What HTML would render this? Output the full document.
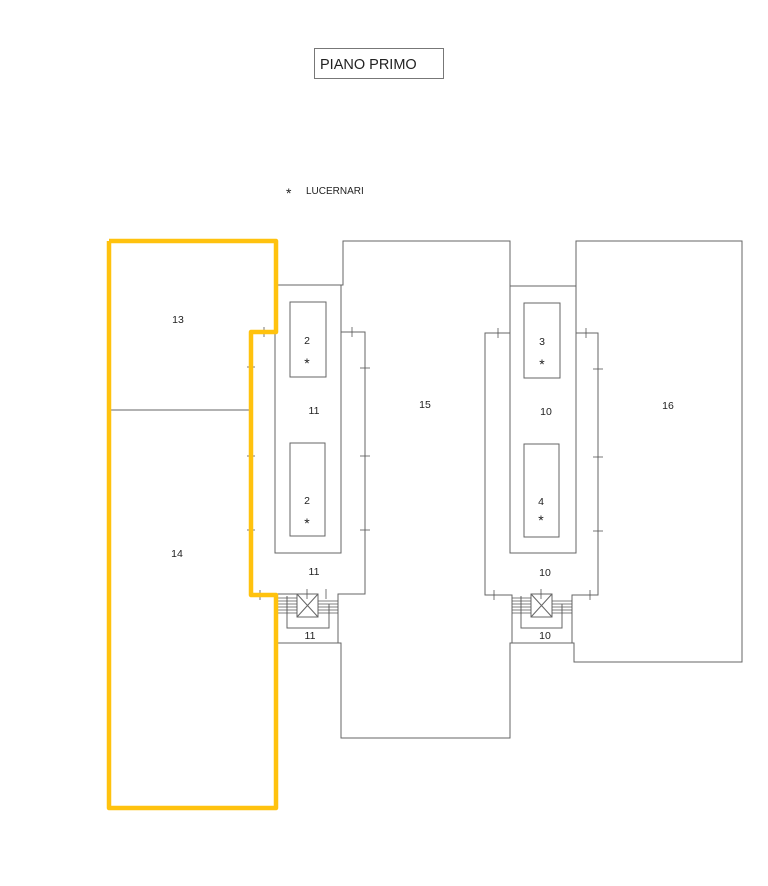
<!DOCTYPE html>
<html><head><meta charset="utf-8"><style>
html,body{margin:0;padding:0;background:#fff;}
svg{display:block;}
text{font-family:"Liberation Sans",sans-serif;fill:#222;}
</style></head><body>
<svg width="768" height="886" viewBox="0 0 768 886" xmlns="http://www.w3.org/2000/svg">
<rect x="314.5" y="48.5" width="129" height="30" fill="none" stroke="#777" stroke-width="1"/>
<text x="320" y="69" font-size="14.5">PIANO PRIMO</text>
<text x="286" y="198" font-size="14">*</text>
<text x="306" y="194" font-size="10">LUCERNARI</text>

<g fill="none" stroke="#666" stroke-width="1">
<line x1="109" y1="410" x2="251" y2="410"/>
<polyline points="276,285 343,285 343,241 510,241 510,286 576,286 576,241 742,241 742,662 574,662 574,643 510,643 510,738 341,738 341,643 276,643"/>
<rect x="275" y="285" width="66" height="268"/>
<rect x="290" y="302" width="36" height="75"/>
<rect x="290" y="443" width="35" height="93"/>
<polyline points="341,332 365,332 365,594 338,594 338,643"/>
<line x1="276" y1="594" x2="297" y2="594"/>
<rect x="297" y="594" width="21" height="23"/>
<line x1="297" y1="594" x2="318" y2="617"/><line x1="318" y1="594" x2="297" y2="617"/>
<polyline points="287,596 287,628 329,628 329,604"/>
<rect x="510" y="286" width="66" height="267"/>
<rect x="524" y="303" width="36" height="75"/>
<rect x="524" y="444" width="35" height="93"/>
<polyline points="510,333 485,333 485,595 512,595 512,643"/>
<polyline points="576,333 598,333 598,595 572,595 572,643"/>
<rect x="531" y="594" width="21" height="23"/>
<line x1="531" y1="594" x2="552" y2="617"/><line x1="552" y1="594" x2="531" y2="617"/>
<polyline points="521,596 521,628 562,628 562,604"/>
</g>
<g stroke="#555" stroke-width="0.8">
<line x1="278" y1="598" x2="297" y2="598"/><line x1="278" y1="601" x2="297" y2="601"/><line x1="278" y1="604" x2="297" y2="604"/><line x1="278" y1="607" x2="297" y2="607"/><line x1="278" y1="610" x2="297" y2="610"/><line x1="278" y1="613" x2="297" y2="613"/>
<line x1="318" y1="601" x2="338" y2="601"/><line x1="318" y1="604" x2="338" y2="604"/><line x1="318" y1="607" x2="338" y2="607"/><line x1="318" y1="610" x2="338" y2="610"/><line x1="318" y1="613" x2="338" y2="613"/>
<line x1="512" y1="598" x2="531" y2="598"/><line x1="512" y1="601" x2="531" y2="601"/><line x1="512" y1="604" x2="531" y2="604"/><line x1="512" y1="607" x2="531" y2="607"/><line x1="512" y1="610" x2="531" y2="610"/><line x1="512" y1="613" x2="531" y2="613"/>
<line x1="552" y1="601" x2="572" y2="601"/><line x1="552" y1="604" x2="572" y2="604"/><line x1="552" y1="607" x2="572" y2="607"/><line x1="552" y1="610" x2="572" y2="610"/><line x1="552" y1="613" x2="572" y2="613"/>
<line x1="360" y1="368" x2="370" y2="368"/><line x1="360" y1="456" x2="370" y2="456"/><line x1="360" y1="530" x2="370" y2="530"/>
<line x1="352" y1="327" x2="352" y2="337"/><line x1="326" y1="589" x2="326" y2="599"/><line x1="307" y1="589" x2="307" y2="599"/>
<line x1="247" y1="367" x2="255" y2="367"/><line x1="247" y1="456" x2="255" y2="456"/><line x1="247" y1="530" x2="255" y2="530"/>
<line x1="264" y1="327" x2="264" y2="337"/><line x1="260" y1="590" x2="260" y2="600"/>
<line x1="498" y1="328" x2="498" y2="338"/><line x1="586" y1="328" x2="586" y2="338"/>
<line x1="593" y1="369" x2="603" y2="369"/><line x1="593" y1="457" x2="603" y2="457"/><line x1="593" y1="531" x2="603" y2="531"/>
<line x1="494" y1="590" x2="494" y2="600"/><line x1="590" y1="590" x2="590" y2="600"/><line x1="541" y1="589" x2="541" y2="599"/>
</g>
<polyline points="109,241 276,241 276,332 251,332 251,595 276,595 276,808 109,808 109,241" fill="none" stroke="#FFC20E" stroke-width="4.5" stroke-linejoin="round"/>

<g font-size="10.5" text-anchor="middle">
<text x="178" y="323">13</text>
<text x="177" y="557">14</text>
<text x="307" y="344">2</text>
<text x="307" y="368" font-size="14">*</text>
<text x="314" y="414">11</text>
<text x="307" y="504">2</text>
<text x="307" y="528" font-size="14">*</text>
<text x="314" y="575">11</text>
<text x="310" y="639">11</text>
<text x="425" y="408">15</text>
<text x="542" y="345">3</text>
<text x="542" y="369" font-size="14">*</text>
<text x="546" y="415">10</text>
<text x="541" y="505">4</text>
<text x="541" y="525" font-size="14">*</text>
<text x="545" y="576">10</text>
<text x="545" y="639">10</text>
<text x="668" y="409">16</text>
</g>
</svg>
</body></html>
